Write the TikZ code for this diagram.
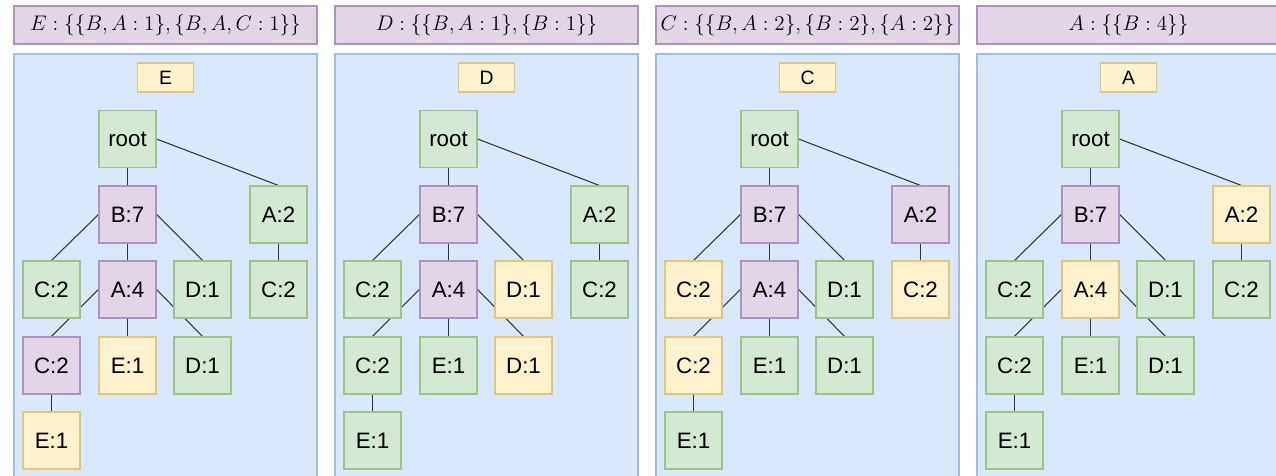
\documentclass[tikz,border=0pt]{standalone}
\usepackage{fontspec}
\usepackage{amsmath}
\newfontfamily\arial{Liberation Sans}

\definecolor{grnfill}{HTML}{D5E8D4}
\definecolor{grnline}{HTML}{9CC48A}
\definecolor{prpfill}{HTML}{E1D5E7}
\definecolor{prpline}{HTML}{AD92BB}
\definecolor{ylwfill}{HTML}{FFF2CC}
\definecolor{ylwline}{HTML}{E0C680}
\definecolor{bluefill}{HTML}{DAE8FC}
\definecolor{blueline}{HTML}{A3BCE4}

\pgfdeclarelayer{pane}
\pgfdeclarelayer{links}
\pgfsetlayers{pane,links,main}

\tikzset{
  box/.style={draw, minimum size=11.4mm, inner sep=0pt, line width=0.6pt, font=\arial\fontsize{12.7}{15}\selectfont},
  grn/.style={fill=grnfill, draw=grnline},
  prp/.style={fill=prpfill, draw=prpline},
  ylw/.style={fill=ylwfill, draw=ylwline},
  tag/.style={draw=ylwline, fill=ylwfill, line width=0.6pt, minimum width=11.2mm, minimum height=5.8mm, inner sep=0pt, font=\arial\fontsize{11}{13}\selectfont},
  header/.style={draw=prpline, fill=prpfill, line width=0.6pt, minimum width=60.6mm, minimum height=7.6mm, inner sep=0pt, font=\fontsize{11.8}{14}\selectfont},
  link/.style={draw=black!80, line width=0.6pt},
}

% one conditional tree; the arguments are the colours of
% A:2, C:2, A:4, D:1, C:2, C:2, E:1, D:1, E:1
\newcommand{\fptree}[9]{%
  \node[box, grn] (root) at (113.5,139) {root};
  \node[box, prp] (B7) at (113.5,214.5) {B:7};
  \node[box, #1] (A2) at (264.5,214.5) {A:2};
  \node[box, #2] (C2) at (37.5,289.5) {C:2};
  \node[box, #3] (A4) at (113.5,289.5) {A:4};
  \node[box, #4] (D1) at (188.5,289.5) {D:1};
  \node[box, #5] (C2r) at (264.5,289.5) {C:2};
  \node[box, #6] (C2b) at (37.5,365.5) {C:2};
  \node[box, #7] (E1) at (113.5,365.5) {E:1};
  \node[box, #8] (D1b) at (188.5,365.5) {D:1};
  \node[box, #9] (E1b) at (37.5,440.5) {E:1};
  \begin{pgfonlayer}{links}
    \draw[link] (root.south) -- (B7.north);
    \draw[link] (root.east) -- (A2.north);
    \draw[link] (B7.west) -- (C2.north);
    \draw[link] (B7.south) -- (A4.north);
    \draw[link] (B7.east) -- (D1.north);
    \draw[link] (A2.south) -- (C2r.north);
    \draw[link] (A4.west) -- (C2b.north);
    \draw[link] (A4.south) -- (E1.north);
    \draw[link] (A4.east) -- (D1b.north);
    \draw[link] (C2b.south) -- (E1b.north);
  \end{pgfonlayer}
}

\newcommand{\pane}{%
  \begin{pgfonlayer}{pane}
    \draw[fill=bluefill, draw=blueline, line width=0.6pt] (0,54) rectangle (303,500);
  \end{pgfonlayer}
}

\begin{document}
\begin{tikzpicture}[x=0.2mm, y=-0.2mm]
  \useasboundingbox (0,0) rectangle (1276,476);

  \begin{scope}[shift={(14,0)}, name prefix=E-]
    \node[header] (head) at (151.5,25) {$E:\{\{B,A:1\},\{B,A,C:1\}\}$};
    \pane
    \node[tag] (item) at (151.5,77.5) {E};
    \fptree{grn}{grn}{prp}{grn}{grn}{prp}{ylw}{grn}{ylw}
  \end{scope}

  \begin{scope}[shift={(335,0)}, name prefix=D-]
    \node[header] (head) at (151.5,25) {$D:\{\{B,A:1\},\{B:1\}\}$};
    \pane
    \node[tag] (item) at (151.5,77.5) {D};
    \fptree{grn}{grn}{prp}{ylw}{grn}{grn}{grn}{ylw}{grn}
  \end{scope}

  \begin{scope}[shift={(656,0)}, name prefix=C-]
    \node[header] (head) at (151.5,25) {$C:\{\{B,A:2\},\{B:2\},\{A:2\}\}$};
    \pane
    \node[tag] (item) at (151.5,77.5) {C};
    \fptree{prp}{ylw}{prp}{grn}{ylw}{ylw}{grn}{grn}{grn}
  \end{scope}

  \begin{scope}[shift={(977,0)}, name prefix=A-]
    \node[header] (head) at (151.5,25) {$A:\{\{B:4\}\}$};
    \pane
    \node[tag] (item) at (151.5,77.5) {A};
    \fptree{ylw}{grn}{ylw}{grn}{grn}{grn}{grn}{grn}{grn}
  \end{scope}
\end{tikzpicture}
\end{document}
